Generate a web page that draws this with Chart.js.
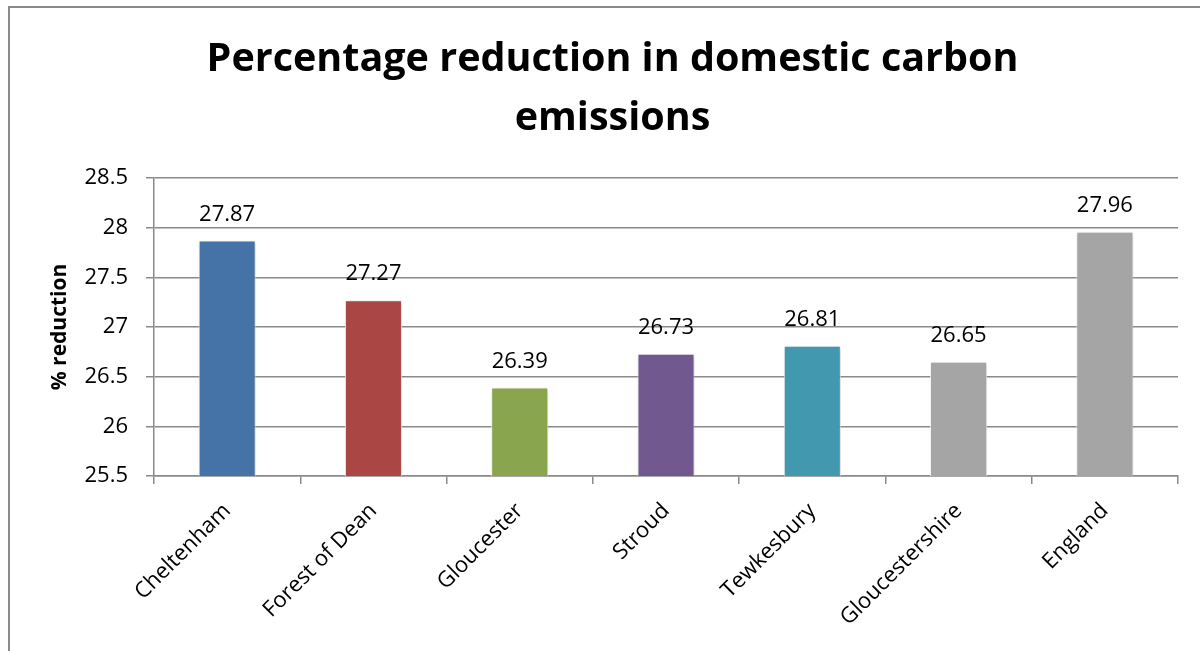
<!DOCTYPE html>
<html>
<head>
<meta charset="utf-8">
<title>Percentage reduction in domestic carbon emissions</title>
<script src="https://cdn.jsdelivr.net/npm/chart.js@4/dist/chart.umd.min.js"></script>
<style>
  html, body { margin: 0; padding: 0; background: #fff; }
  #wrap { width: 1200px; height: 651px; position: relative; }
</style>
</head>
<body>
<div id="wrap"><canvas id="canvas" width="1200" height="651"></canvas></div>
<script>
// areas and their % reduction
var areas = ['Cheltenham', 'Forest of Dean', 'Gloucester', 'Stroud', 'Tewkesbury', 'Gloucestershire', 'England'];
var reduction = [27.87, 27.27, 26.39, 26.73, 26.81, 26.65, 27.96];
var barColours = ['#4572A7', '#AA4643', '#89A54E', '#71588F', '#4198AF', '#A5A5A5', '#A5A5A5'];

var chartTitle = ['Percentage reduction in domestic carbon', 'emissions'];
var axisTitle = '% reduction';
var yMin = 25.5, yMax = 28.5, yStep = 0.5;
var yTickLabels = ['25.5', '26', '26.5', '27', '27.5', '28', '28.5'];

var gridGrey = '#8a8a8a';
var font = "'Open Sans', 'Noto Sans', sans-serif";

// grey frame round the whole chart
var framePlugin = {
    id: 'frame',
    beforeDraw: function(chart) {
        var ctx = chart.ctx;
        ctx.save();
        ctx.fillStyle = '#fff';
        ctx.fillRect(0, 0, chart.width, chart.height);
        ctx.strokeStyle = gridGrey;
        ctx.lineWidth = 2;
        ctx.strokeRect(9, 7, 1400, 800);
        ctx.restore();
    }
};

// soft shadow behind the bars
var shadowPlugin = {
    id: 'barShadow',
    beforeDatasetsDraw: function(chart) {
        var ctx = chart.ctx;
        ctx.save();
        ctx.shadowColor = 'rgba(0,0,0,0.22)';
        ctx.shadowBlur = 4;
        ctx.shadowOffsetX = 1;
        ctx.shadowOffsetY = 1;
    },
    afterDatasetsDraw: function(chart) {
        chart.ctx.restore();
    }
};

// value written above each bar
var valuePlugin = {
    id: 'barValues',
    afterDraw: function(chart) {
        var ctx = chart.ctx;
        var meta = chart.getDatasetMeta(0);
        ctx.save();
        ctx.font = '22px ' + font;
        ctx.fillStyle = '#000';
        ctx.textAlign = 'center';
        ctx.textBaseline = 'alphabetic';
        meta.data.forEach(function(bar, i) {
            ctx.fillText(reduction[i].toFixed(2), bar.x, bar.y - 20);
        });
        ctx.restore();
    }
};

window.onload = function () {
    var ctx = document.getElementById('canvas').getContext('2d');
    new Chart(ctx, {
        type: 'bar',
        data: {
            labels: areas,
            datasets: [{
                label: axisTitle,
                data: reduction,
                backgroundColor: barColours,
                borderColor: 'rgba(255,255,255,0.9)',
                borderWidth: 1,
                barPercentage: 0.39,
                categoryPercentage: 1
            }]
        },
        plugins: [framePlugin, shadowPlugin, valuePlugin],
        options: {
            responsive: false,
            animation: false,
            layout: { padding: { left: 47, right: 22, top: 0, bottom: 0 } },
            plugins: {
                legend: { display: false },
                tooltip: { enabled: false },
                title: {
                    display: true,
                    text: chartTitle,
                    color: '#000',
                    font: { family: font, size: 39.5, weight: 'bold', lineHeight: 1.5 },
                    padding: { top: 30, bottom: 29.5 }
                }
            },
            scales: {
                x: {
                    grid: {
                        display: true,
                        drawOnChartArea: false,
                        drawTicks: true,
                        tickLength: 8,
                        color: gridGrey,
                        lineWidth: 1.5
                    },
                    border: { display: true, color: gridGrey, width: 1.5 },
                    ticks: {
                        color: '#000',
                        font: { family: font, size: 22 },
                        minRotation: 45,
                        maxRotation: 45,
                        padding: 14
                    },
                    afterFit: function(scale) { scale.height = 175; }
                },
                y: {
                    min: yMin,
                    max: yMax,
                    grid: {
                        color: gridGrey,
                        lineWidth: 1.5,
                        drawTicks: true,
                        tickLength: 8
                    },
                    border: { display: true, color: gridGrey, width: 1.5 },
                    ticks: {
                        stepSize: yStep,
                        color: '#000',
                        font: { family: font, size: 22 },
                        padding: 18,
                        callback: function(value, index) { return yTickLabels[index]; }
                    },
                    title: {
                        display: true,
                        text: axisTitle,
                        color: '#000',
                        font: { family: font, size: 21, weight: 'bold' },
                        padding: 0
                    },
                    afterFit: function(scale) { scale.width = 107; }
                }
            }
        }
    });
};
</script>
</body>
</html>
